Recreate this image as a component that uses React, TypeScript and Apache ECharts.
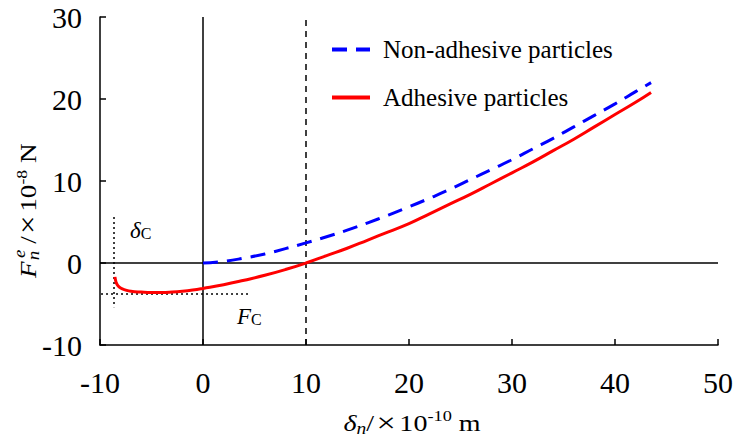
import React, { useEffect, useRef } from "react";
import * as echarts from "echarts";

const xTicks = { min: -10, max: 50, interval: 10 };
const yTicks = { min: -10, max: 30, interval: 10 };

const seriesNames = ["Non-adhesive particles", "Adhesive particles"];

const nonAdhesiveX = [0, 2, 4, 6, 8, 10, 12, 14, 16, 18, 20, 22, 24, 26, 28, 30, 32, 34, 36, 38, 40, 42, 43.5];
const nonAdhesiveY = [0, 0.2, 0.6, 1.1, 1.75, 2.45, 3.2, 4.0, 4.9, 5.85, 6.85, 7.9, 9.0, 10.2, 11.4, 12.6, 13.9, 15.2, 16.6, 18.0, 19.4, 20.9, 22.0];

const adhesiveX = [-8.55, -8.45, -8.3, -8, -7.5, -7, -6, -5, -4, -3, -2, -1, 0, 2, 4, 6, 8, 10, 12, 14, 16, 18, 20, 22, 24, 26, 28, 30, 32, 34, 36, 38, 40, 42, 43.5];
const adhesiveY = [-1.7, -2.3, -2.7, -3.05, -3.3, -3.45, -3.55, -3.6, -3.6, -3.55, -3.45, -3.3, -3.1, -2.65, -2.1, -1.5, -0.8, 0, 0.9, 1.8, 2.8, 3.8, 4.8, 6.0, 7.2, 8.4, 9.7, 11.0, 12.3, 13.7, 15.1, 16.6, 18.1, 19.6, 20.8];

const deltaC = -8.7;
const deltaCRange = [5.6, -5.4];
const forceC = -3.8;
const forceCRange = [-9.9, 4.5];
const zeroOverlap = 10;

const FONT = "Liberation Serif";
const BLUE_DASH = [15, 9];

export default function App() {
  const ref = useRef<HTMLDivElement>(null);
  useEffect(() => {
    if (!ref.current) return;
    const chart = echarts.init(ref.current, null, { renderer: "svg" });
    const blue = nonAdhesiveX.map((x, i) => [x, nonAdhesiveY[i]]);
    const red = adhesiveX.map((x, i) => [x, adhesiveY[i]]);
    const richBase = {
      n: { fontFamily: FONT, fontSize: 23, color: "#000" },
      x: { fontFamily: FONT, fontSize: 28, color: "#000", padding: [0, 3, 0, 2] },
      i: { fontFamily: FONT, fontSize: 23, fontStyle: "italic", color: "#000" },
      isub: { fontFamily: FONT, fontSize: 16, fontStyle: "italic", color: "#000", verticalAlign: "bottom", lineHeight: 14 },
      sub: { fontFamily: FONT, fontSize: 16, color: "#000", verticalAlign: "bottom", lineHeight: 14 },
      sup: { fontFamily: FONT, fontSize: 15, color: "#000", verticalAlign: "top", lineHeight: 14 },
    };
    chart.setOption({
      animation: false,
      backgroundColor: "#fff",
      textStyle: { fontFamily: FONT },
      grid: { left: 100, right: 19, top: 17, bottom: 98 },
      legend: {
        orient: "vertical",
        left: 330,
        top: 37,
        padding: 0,
        itemWidth: 38,
        itemHeight: 24,
        itemGap: 23,
        itemStyle: { color: "rgba(0,0,0,0)", borderWidth: 0 },
        data: [
          { name: seriesNames[0], lineStyle: { color: "#0000ff", width: 4, type: BLUE_DASH } },
          { name: seriesNames[1], lineStyle: { color: "#ff0000", width: 4, type: "solid" } },
        ],
        textStyle: { fontFamily: FONT, fontSize: 25, color: "#000", padding: [0, 0, 0, 8] },
      },
      xAxis: {
        type: "value",
        min: xTicks.min,
        max: xTicks.max,
        interval: xTicks.interval,
        axisLine: { onZero: false, lineStyle: { color: "#000", width: 1.5 } },
        axisTick: { inside: true, length: 6, lineStyle: { color: "#000", width: 1.5 } },
        axisLabel: { fontFamily: FONT, fontSize: 30, color: "#000", margin: 22 },
        splitLine: { show: false },
      },
      yAxis: {
        type: "value",
        min: yTicks.min,
        max: yTicks.max,
        interval: yTicks.interval,
        axisLine: { show: true, onZero: false, lineStyle: { color: "#000", width: 1.5 } },
        axisTick: { show: true, inside: true, length: 6, lineStyle: { color: "#000", width: 1.5 } },
        axisLabel: { fontFamily: FONT, fontSize: 30, color: "#000", margin: 18 },
        splitLine: { show: false },
      },
      series: [
        {
          name: seriesNames[0],
          type: "line",
          data: blue,
          smooth: true,
          symbol: "none",
          lineStyle: { color: "#0000ff", width: 3, type: BLUE_DASH },
          itemStyle: { color: "#0000ff" },
          z: 3,
        },
        {
          name: seriesNames[1],
          type: "line",
          data: red,
          smooth: true,
          symbol: "none",
          lineStyle: { color: "#ff0000", width: 3 },
          itemStyle: { color: "#ff0000" },
          z: 3,
          markLine: {
            silent: true,
            symbol: "none",
            label: { show: false },
            z: 2,
            data: [
              { xAxis: 0, lineStyle: { color: "#000", width: 1.5, type: "solid" } },
              { yAxis: 0, lineStyle: { color: "#000", width: 1.5, type: "solid" } },
              { xAxis: zeroOverlap, lineStyle: { color: "#000", width: 1.5, type: [6, 5] } },
              [
                { coord: [deltaC, deltaCRange[0]], lineStyle: { color: "#000", width: 1.5, type: [2, 3] } },
                { coord: [deltaC, deltaCRange[1]] },
              ],
              [
                { coord: [forceCRange[0], forceC], lineStyle: { color: "#000", width: 1.5, type: [2, 3] } },
                { coord: [forceCRange[1], forceC] },
              ],
            ],
          },
        },
      ],
      graphic: [
        {
          type: "text",
          x: 412,
          y: 423,
          scaleX: 1.22,
          style: {
            text: "{i|δ}{isub|n}{n|/}{x|×}{n|10}{sup|-10}{n| m}",
            rich: richBase,
            align: "center",
            verticalAlign: "middle",
          },
        },
        {
          type: "group",
          x: 28,
          y: 278,
          rotation: Math.PI / 2,
          scaleX: 1.18,
          children: [
            { type: "text", x: 0, y: 0, style: { text: "F", font: `italic 23px ${FONT}`, fill: "#000", align: "left", verticalAlign: "middle" } },
            { type: "text", x: 15, y: 6, style: { text: "n", font: `italic 16px ${FONT}`, fill: "#000", align: "left", verticalAlign: "middle" } },
            { type: "text", x: 17, y: -8, style: { text: "e", font: `italic 16px ${FONT}`, fill: "#000", align: "left", verticalAlign: "middle" } },
            { type: "text", x: 29, y: 0, style: { text: "{n|/}{x|×}{n|10}{sup|-8}{n| N}", rich: richBase, align: "left", verticalAlign: "middle" } },
          ],
        },
        {
          type: "text",
          x: 130,
          y: 230,
          style: { text: "{i|δ}{sub|C}", rich: richBase, align: "left", verticalAlign: "middle" },
        },
        {
          type: "text",
          x: 237,
          y: 316,
          style: { text: "{i|F}{sub|C}", rich: richBase, align: "left", verticalAlign: "middle" },
        },
      ],
    });
    return () => chart.dispose();
  }, []);
  return <div ref={ref} style={{ width: 737, height: 443, position: "absolute", left: 0, top: 0 }} />;
}
